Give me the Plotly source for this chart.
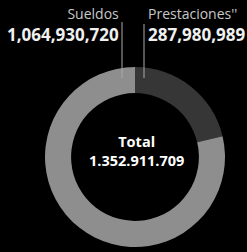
import plotly.graph_objects as go

categories = ["Prestaciones''", "Sueldos"]
values = [287980989, 1064930720]
value_labels = ["287,980,989", "1,064,930,720"]
total_label = "1.352.911.709"
colors = ["#363636", "#8e8e8e"]

W, H = 247, 252
cx, cy, r = 135, 157, 90

def px(x):
    return x / W

def py(y):
    return 1 - y / H

fig = go.Figure(go.Pie(
    labels=categories, values=values, sort=False, direction="clockwise",
    rotation=0, hole=0.71, textinfo="none", hoverinfo="label+value",
    marker=dict(colors=colors, line=dict(width=0)),
    domain=dict(x=[px(cx - r), px(cx + r)], y=[py(cy + r), py(cy - r)]),
    showlegend=False,
))

font = "Open Sans, Noto Sans, sans-serif"

def block(label, value):
    return ("<span style='font-size:14px;color:#c8c8c8'>" + label + "</span><br>"
            "<b>" + value + "</b>")

ann = [
    dict(x=px(121), y=py(25), text=block("Sueldos", value_labels[1]), xanchor="right", align="right",
         font=dict(size=17, color="#f0f0f0", family=font)),
    dict(x=px(146), y=py(25), text=block(categories[0], value_labels[0]), xanchor="left", align="left",
         font=dict(size=17, color="#f0f0f0", family=font)),
    dict(x=px(136), y=py(150.5), text="<b>Total<br>" + total_label + "</b>", xanchor="center", align="center",
         font=dict(size=14.5, color="#ffffff", family=font)),
]
for a in ann:
    a.update(xref="paper", yref="paper", yanchor="middle", showarrow=False)

shapes = [
    dict(type="line", xref="paper", yref="paper", x0=px(122), x1=px(122), y0=py(22), y1=py(78), line=dict(color="#aaaaaa", width=1)),
    dict(type="line", xref="paper", yref="paper", x0=px(144), x1=px(144), y0=py(24), y1=py(78), line=dict(color="#aaaaaa", width=1)),
]

fig.update_layout(
    width=W, height=H, margin=dict(l=0, r=0, t=0, b=0),
    paper_bgcolor="#000000", plot_bgcolor="#000000",
    annotations=ann, shapes=shapes,
)
fig.write_html("out.html", config={"displayModeBar": False},
               post_script="document.body.style.margin='0';document.body.style.background='#000';document.body.style.overflow='hidden';")
